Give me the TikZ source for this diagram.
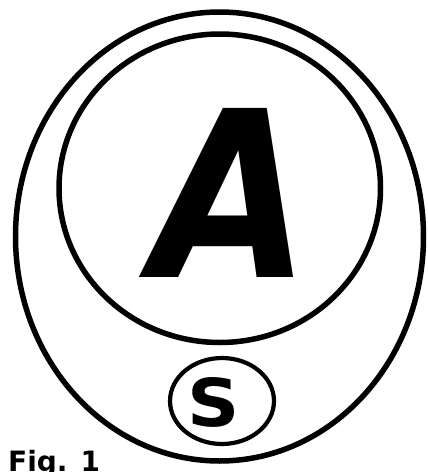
\documentclass[tikz,border=0pt]{standalone}
\usepackage{fontspec}
\setmainfont{DejaVu Sans}
\usetikzlibrary{shapes.geometric}
\tikzset{
  ring/.style={ellipse, draw=black, line width=5.5pt, inner sep=0pt, outer sep=0pt},
  smallring/.style={ring, line width=4.2pt},
  bigletter/.style={inner sep=0pt, font=\fontsize{232}{232}\selectfont\bfseries\itshape},
  sletter/.style={inner sep=0pt, font=\fontsize{66}{66}\selectfont\bfseries},
  caption/.style={anchor=base west, inner sep=0pt, font=\fontsize{28}{28}\selectfont\bfseries}
}
\begin{document}
\begin{tikzpicture}[x=1pt,y=-1pt]
  \useasboundingbox (0,0) rectangle (428,472);
  \fill[white] (0,0) rectangle (428,472);
  \node[ring, minimum width=408pt, minimum height=449pt] (outer) at (219.5,236.5) {};
  \node[ring, minimum width=321.5pt, minimum height=308.5pt] (inner) at (219.75,188.25) {};
  \node[smallring, minimum width=104pt, minimum height=86pt] (sring) at (222,401) {};
  \node[bigletter, xscale=0.88] (A) at (232,193) {A};
  \node[sletter, xscale=1.1] (S) at (214,402) {S};
  \node[caption] (fig) at (8,471) {Fig. 1};
\end{tikzpicture}
\end{document}
